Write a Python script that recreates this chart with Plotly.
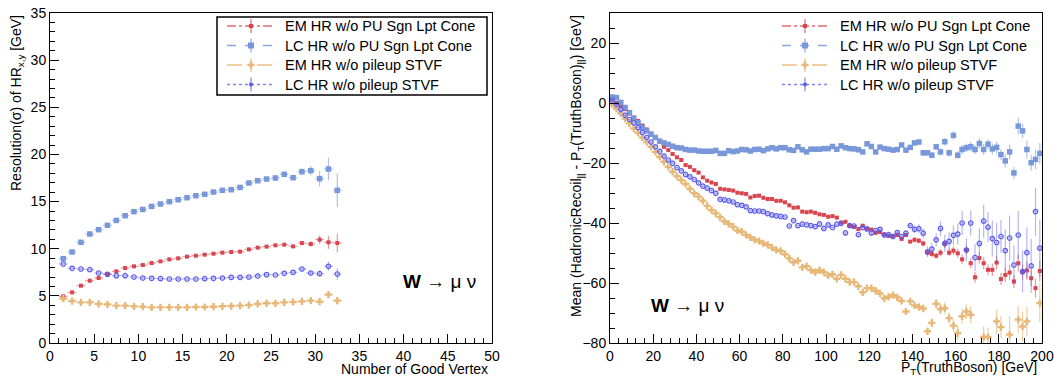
import plotly.graph_objects as go

# ---------------- Left panel data ----------------
nvtx = [1.5, 2.5, 3.5, 4.5, 5.5, 6.5, 7.5, 8.5, 9.5, 10.5, 11.5, 12.5, 13.5, 14.5, 15.5, 16.5,
        17.5, 18.5, 19.5, 20.5, 21.5, 22.5, 23.5, 24.5, 25.5, 26.5, 27.5, 28.5, 29.5, 30.5, 31.5, 32.5]
res_em_sgn = [4.95, 5.37, 6.08, 6.61, 6.89, 7.32, 7.6, 7.95, 8.13, 8.27, 8.48, 8.66, 8.87, 8.98, 9.16, 9.26,
              9.37, 9.47, 9.58, 9.65, 9.69, 9.93, 10.11, 10.22, 10.36, 10.43, 10.25, 10.6, 10.5, 10.96, 10.68, 10.6]
res_lc_sgn = [8.94, 9.65, 10.68, 11.56, 12.02, 12.48, 13.0, 13.5, 13.93, 14.17, 14.49, 14.74, 14.99, 15.2, 15.41, 15.62,
              15.77, 16.01, 16.19, 16.26, 16.5, 16.97, 17.21, 17.39, 17.5, 17.89, 17.53, 18.17, 18.28, 17.43, 18.45, 16.19]
res_em_stvf = [4.7, 4.45, 4.31, 4.31, 4.14, 4.1, 3.96, 3.96, 3.89, 3.85, 3.78, 3.78, 3.78, 3.78, 3.78, 3.82,
               3.82, 3.85, 3.89, 3.92, 3.96, 4.03, 4.14, 4.21, 4.21, 4.31, 4.35, 4.42, 4.49, 4.38, 5.13, 4.49]
res_lc_stvf = [8.38, 7.92, 7.85, 7.78, 7.42, 7.28, 7.14, 7.14, 7.0, 6.89, 6.86, 6.82, 6.79, 6.79, 6.79, 6.79,
               6.82, 6.86, 6.89, 6.96, 6.96, 7.0, 7.1, 7.25, 7.21, 7.39, 7.49, 7.85, 7.42, 7.35, 8.13, 7.32]
err_l_em_sgn = [0.1]*26 + [0.15, 0.2, 0.3, 0.45, 0.7, 1.0]
err_l_lc_sgn = [0.12]*24 + [0.15, 0.2, 0.25, 0.35, 0.5, 0.8, 1.2, 1.8]
err_l_em_stvf = [0.08]*26 + [0.1, 0.12, 0.15, 0.2, 0.35, 0.4]
err_l_lc_stvf = [0.1]*26 + [0.12, 0.15, 0.2, 0.3, 0.5, 0.6]

# ---------------- Right panel data ----------------
pt = [1 + 2*i for i in range(100)]
mean_lc_sgn = [2.0, 1.8, 0.2, -1.5, -3.2, -5.0, -6.6, -8.2, -9.3, -10.4, -11.5, -12.7, -13.3, -13.8, -14.4, -14.9, -15.0,
               -15.5, -15.7, -15.7, -16.0, -16.1, -16.1, -16.1, -15.8, -16.8, -16.8, -15.9, -16.2, -16.0, -15.5, -15.6,
               -16.0, -15.5,
               -15.4, -15.9, -15.3, -14.9, -15.3, -14.9, -14.9, -15.6, -15.8, -14.6, -15.6, -16.3, -15.4, -15.4, -15.4,
               -15.2, -15.2, -14.5, -15.4, -14.3, -14.9, -15.2, -15.3, -15.6, -16.3, -13.6, -14.5, -16.3, -14.7, -15.2,
               -15.4,
               -15.7, -15.5, -14.0, -15.7, -14.8, -13.3, -13.0, -16.6, -16.6, -17.4, -14.6, -16.3, -12.9, -16.6, -10.8,
               -17.4, -15.5, -14.9, -14.6, -15.5, -13.5, -15.5, -13.7, -15.3, -14.8, -17.2, -19.3, -16.3, -23.3, -7.7,
               -9.3, -15.5, -19.9, -18.8, -16.8]
mean_em_sgn = [1.15, 0.04, -1.07, -2.07, -3.5, -4.95, -5.95, -7.5, -8.8, -10.2, -11.5, -12.9, -14.6, -15.7, -17.0, -18.1,
               -19.0, -20.7, -21.3, -22.4, -23.2, -24.8, -25.9, -26.5, -27.0, -28.6, -28.8, -29.0, -29.2, -29.9, -30.1,
               -30.3, -31.5, -31.0,
               -30.9, -31.6, -32.0, -32.0, -32.6, -32.6, -33.1, -34.1, -34.9, -34.8, -36.2, -36.4, -36.2, -36.6, -37.1,
               -37.3, -37.9, -37.7, -38.2,
               -39.9, -39.6, -41.0, -41.3, -42.0, -40.9, -41.9, -42.2, -43.3, -43.0, -43.8, -44.3, -44.3, -44.0,
               -45.3, -44.0, -46.2, -45.6, -45.9, -46.8, -49.9, -50.3, -50.9, -49.9, -47.0, -49.9, -49.2, -50.1, -52.1,
               -49.0, -53.4, -58.1, -51.7, -53.4, -55.6, -55.6, -53.2, -58.7, -57.3, -56.5, -59.5, -53.4, -56.4, -55.8,
               -58.4, -61.7, -56.0]
mean_em_stvf = [-0.4, -1.85, -3.5, -5.2, -6.8, -8.5, -9.9, -11.5, -13.0, -14.6, -16.3, -17.9, -19.6, -21.3, -22.9, -24.4,
                -25.7, -27.0, -28.6, -30.1, -31.2, -32.6, -34.3, -35.7, -36.8, -38.1, -39.5, -40.3, -41.2, -42.5, -42.9,
                -44.0, -44.8, -45.6,
                -46.0, -46.8, -47.3, -48.2, -49.0, -49.3, -50.4, -51.8, -53.1, -52.6, -54.8, -54.4, -55.7, -56.4, -55.7,
                -56.4, -57.5, -57.1, -58.6, -57.3, -58.6, -59.7, -59.7, -61.1, -63.1, -61.7, -61.7, -62.6, -63.5, -65.1,
                -64.6, -64.0, -64.8, -66.0,
                -69.5, -66.1, -67.5, -68.0, -68.5, -76.1, -73.3, -66.9, -68.7, -68.4, -71.7, -74.2, -76.7, -71.1, -69.5,
                -70.6, None, None, -78.0, -78.0, None, -72.8, -74.7, None, -77.2, None, -72.2, -74.5, -72.8, None, None,
                -66.7]
mean_lc_stvf = [1.0, -0.5, -2.2, -4.1, -5.5, -6.6, -8.2, -9.8, -11.5, -13.0, -14.6, -16.1, -17.7, -19.0, -20.1, -21.5,
                -22.6, -23.8, -24.6, -25.5, -26.6, -27.7, -28.4, -29.2, -30.1, -32.1, -32.3, -32.6, -33.0, -33.9, -34.1,
                -34.6, -35.9, -36.0,
                -36.0, -36.2, -36.9, -37.3, -37.6, -37.8, -38.0,
                -41.0, -39.2, -40.9, -40.4, -40.6, -40.9, -41.2, -40.3, -41.8, -40.6, -41.5, -40.4, -40.1, -43.3, -40.9,
                -41.0, -43.9,
                -41.5, -42.0, -43.3, -42.5, -42.1, -44.0, -43.9, -44.5, -43.2,
                -44.5, -43.4, -40.9, -42.1, -41.9, -43.4, -49.6, -48.7, -45.6, -41.8, -46.8, -46.1, -44.1, -43.7, -40.0,
                -49.0, -40.0, -51.5, -46.8, -39.4, -41.4, -45.2, -46.5, -44.5, -49.2, -45.0, -54.0, -44.0, -56.2, -49.9,
                -54.3, -36.2, -48.4]
err_r_lc_sgn = [0.3]*60 + [0.5]*10 + [0.8, 0.9, 1.0, 0.9, 1.1, 1.0, 1.2, 1.3, 1.2, 1.4, 1.3, 1.5, 1.4, 1.6, 1.5,
                               1.7, 1.8, 1.6, 1.9, 2.0, 1.8, 2.2, 2.5, 2.0, 2.8, 2.4, 3.0, 2.6, 3.2, 3.5]
err_r_em_sgn = [0.3]*60 + [0.5]*10 + [0.8, 0.9, 1.0, 0.9, 1.1, 1.0, 1.2, 1.3, 1.2, 1.4, 1.5, 1.6, 1.5, 1.7, 1.8,
                               1.9, 2.0, 1.8, 2.1, 2.3, 2.0, 2.4, 2.6, 2.2, 2.8, 2.5, 3.0, 2.7, 3.2, 3.5]
err_r_em_stvf = [0.3]*60 + [0.6]*10 + [1.0, 1.2, 1.3, 1.2, 1.5, 1.6, 1.8, 2.0, 1.9, 2.2, 2.4, 2.6, 2.5, 2.8, 3.0,
                                3.2, 3.5, 3.2, 3.8, 4.0, 3.6, 4.2, 6.0, 4.0, 4.5, 5.0, 4.8, 5.5, 6.0, 6.5]
err_r_lc_stvf = [0.3]*60 + [0.6]*10 + [1.2, 1.5, 1.6, 1.8, 2.0, 2.2, 2.5, 2.8, 3.0, 3.2, 3.5, 4.0, 3.8, 4.2, 4.5,
                                5.0, 5.5, 5.0, 6.0, 6.5, 5.5, 7.0, 7.5, 6.5, 8.0, 7.0, 8.5, 9.0, 8.0, 9.5]

series_names = ["EM HR w/o PU Sgn Lpt Cone", "LC HR w/o PU Sgn Lpt Cone",
                "EM HR w/o pileup STVF", "LC HR w/o pileup STVF"]
colors = ["#d9454f", "#7898da", "#e8b878", "#5a5aee"]
errcolors = ["rgba(217,69,79,0.55)", "rgba(120,152,218,0.6)", "rgba(232,184,120,0.7)", "rgba(90,90,238,0.45)"]
legline = ["rgba(217,69,79,0.8)", "rgba(120,152,218,0.85)", "rgba(232,184,120,0.9)", "rgba(90,90,238,0.75)"]
dashes = ["dashdot", "dash", "longdash", "dot"]
markers = [dict(symbol="square", size=4), dict(symbol="square", size=5.5),
           dict(symbol="cross", size=6), dict(symbol="circle-open", size=4.5, line=dict(width=1.2))]
legmarkers = [dict(symbol="square", size=4), dict(symbol="square", size=6),
              dict(symbol="cross", size=6), dict(symbol="circle", size=4)]

left_y = [res_em_sgn, res_lc_sgn, res_em_stvf, res_lc_stvf]
left_e = [err_l_em_sgn, err_l_lc_sgn, err_l_em_stvf, err_l_lc_stvf]
right_y = [mean_em_sgn, mean_lc_sgn, mean_em_stvf, mean_lc_stvf]
right_e = [err_r_em_sgn, err_r_lc_sgn, err_r_em_stvf, err_r_lc_stvf]

W, H = 1064, 376
ml, mr, mt, mb = 50, 22, 13, 33
FONT = "Liberation Sans, Arial, Helvetica"

fig = go.Figure()
for i in range(4):
    mk = dict(markers[i]); mk["color"] = colors[i]
    fig.add_trace(go.Scatter(x=nvtx, y=left_y[i], mode="markers", marker=mk, showlegend=False,
                             error_y=dict(type="data", array=left_e[i], width=0, thickness=1.2, color=errcolors[i]),
                             error_x=dict(type="constant", value=0.5, width=0, thickness=1.2, color=errcolors[i]),
                             xaxis="x", yaxis="y"))
    fig.add_trace(go.Scatter(x=pt, y=right_y[i], mode="markers", marker=mk, showlegend=False,
                             error_y=dict(type="data", array=right_e[i], width=0, thickness=1.2, color=errcolors[i]),
                             error_x=dict(type="constant", value=1.0, width=0, thickness=1.2, color=errcolors[i]),
                             xaxis="x2", yaxis="y2"))

# ---- ROOT-style legends drawn on a full-size overlay axis (pixel units) ----
leg_rows = [26, 45.5, 65, 84.5]
legends = [dict(line=(227, 275), text_x=283, box=(217, 17, 487, 95)),
           dict(line=(782, 828), text_x=838, box=None)]
shapes = []
ann = []
for lg in legends:
    if lg["box"]:
        x0, y0, x1, y1 = lg["box"]
        shapes.append(dict(type="rect", xref="x3", yref="y3", x0=x0, y0=y0, x1=x1, y1=y1,
                           line=dict(color="black", width=1.5), fillcolor="white", layer="below"))
    for i in range(4):
        ry = leg_rows[i]
        shapes.append(dict(type="line", xref="x3", yref="y3", x0=lg["line"][0], x1=lg["line"][1], y0=ry, y1=ry,
                           line=dict(color=legline[i], dash=dashes[i], width=1.5)))
        mk = dict(legmarkers[i]); mk["color"] = colors[i]
        fig.add_trace(go.Scatter(x=[(lg["line"][0] + lg["line"][1]) / 2], y=[ry], mode="markers", marker=mk,
                                 showlegend=False, hoverinfo="skip", cliponaxis=False,
                                 error_y=dict(type="constant", value=7, width=0, thickness=1.2, color=legline[i]),
                                 xaxis="x3", yaxis="y3"))
        ann.append(dict(text=series_names[i], x=lg["text_x"], y=ry, xref="x3", yref="y3", xanchor="left",
                        yanchor="middle", showarrow=False, font=dict(family=FONT, size=14.5, color="black")))

axis_common = dict(showline=True, linecolor="black", linewidth=1, mirror=True, ticks="inside", ticklen=9,
                   tickcolor="black", showgrid=False, zeroline=False, automargin=False,
                   tickfont=dict(family=FONT, size=14, color="black"))


def px(xp):
    return (xp - ml) / (W - ml - mr)


def py(yp):
    return (H - mb - yp) / (H - mt - mb)


fig.update_layout(
    template="none",
    width=W, height=H, margin=dict(l=ml, r=mr, t=mt, b=mb),
    paper_bgcolor="white", plot_bgcolor="rgba(0,0,0,0)",
    font=dict(family=FONT, size=14, color="black"),
    showlegend=False,
    xaxis=dict(domain=[0, px(492)], range=[0, 50], tickmode="linear", tick0=0, dtick=5,
               minor=dict(ticks="inside", ticklen=5, dtick=1, tickcolor="black", showgrid=False),
               anchor="y", **axis_common),
    yaxis=dict(domain=[0, 1], range=[0, 35], tickmode="linear", tick0=0, dtick=5,
               minor=dict(ticks="inside", ticklen=5, dtick=1, tickcolor="black", showgrid=False),
               anchor="x", **axis_common),
    xaxis2=dict(domain=[px(610), 1], range=[0, 200], tickmode="linear", tick0=0, dtick=20,
                minor=dict(ticks="inside", ticklen=5, dtick=4, tickcolor="black", showgrid=False),
                anchor="y2", **axis_common),
    yaxis2=dict(domain=[0, 1], range=[-80, 30], tickmode="array", tickvals=[-80, -60, -40, -20, 0, 20],
                minor=dict(ticks="inside", ticklen=5, tickvals=list(range(-80, 31, 5)), tickcolor="black",
                           showgrid=False),
                anchor="x2", **axis_common),
    xaxis3=dict(domain=[0, 1], range=[ml, W - mr], visible=False, fixedrange=True, anchor="y3"),
    yaxis3=dict(domain=[0, 1], range=[H - mb, mt], visible=False, fixedrange=True, anchor="x3"),
)

font_t = dict(family=FONT, size=14, color="black")
ann += [
    dict(text="Resolution(σ) of HR<sub>x,y</sub> [GeV]", x=px(17), y=1.0, xref="paper", yref="paper",
         textangle=-90, xanchor="center", yanchor="top", showarrow=False, font=font_t),
    dict(text="Number of Good Vertex", x=px(490), y=py(369), xref="paper", yref="paper",
         xanchor="right", yanchor="middle", showarrow=False, font=font_t),
    dict(text="Mean (HadronicRecoil<sub>||</sub> - P<sub>T</sub>(TruthBoson)<sub>||</sub>) [GeV]", x=px(577), y=1.0,
         xref="paper", yref="paper", textangle=-90, xanchor="center", yanchor="top", showarrow=False, font=font_t),
    dict(text="P<sub>T</sub>(TruthBoson) [GeV]", x=px(1039), y=py(368), xref="paper", yref="paper",
         xanchor="right", yanchor="middle", showarrow=False, font=font_t),
    dict(text="<b>W</b> → μ ν", x=44.1, y=6.5, xref="x", yref="y", xanchor="center", yanchor="middle",
         showarrow=False, font=dict(family=FONT, size=19, color="black")),
    dict(text="<b>W</b> → μ ν", x=36.1, y=-67.6, xref="x2", yref="y2", xanchor="center", yanchor="middle",
         showarrow=False, font=dict(family=FONT, size=19, color="black")),
]
fig.update_layout(annotations=ann, shapes=shapes)

fig.write_html("out.html", config={"displayModeBar": False},
               post_script="document.body.style.margin='0';document.body.style.padding='0';")
